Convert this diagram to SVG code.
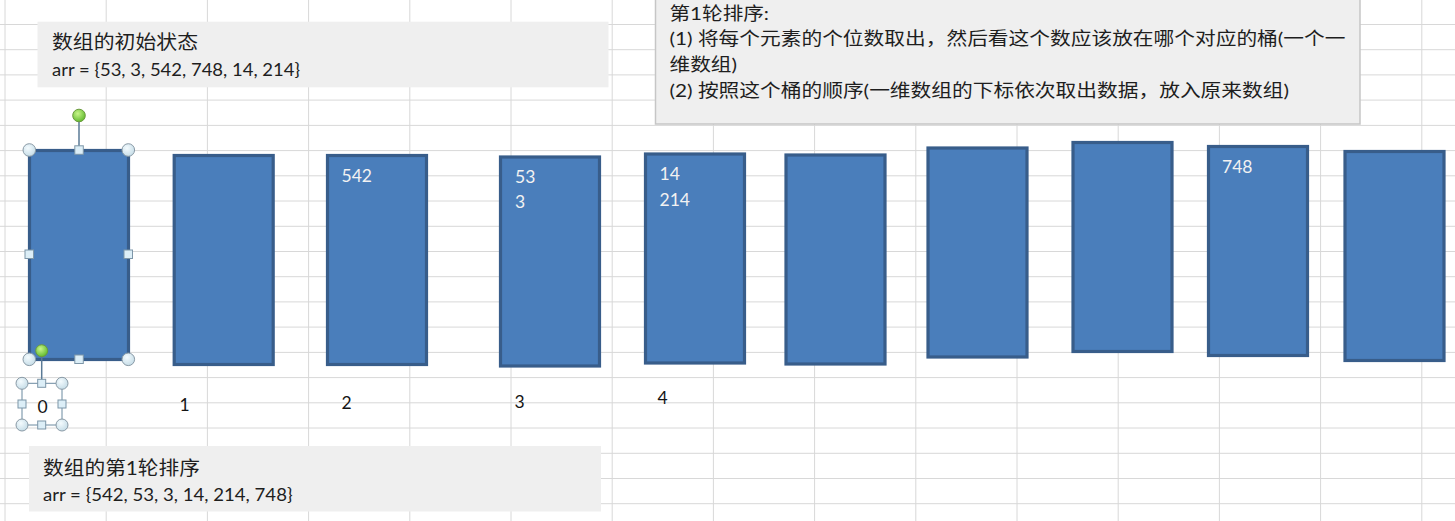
<svg xmlns="http://www.w3.org/2000/svg" width="1455" height="521" viewBox="0 0 1455 521">
  <defs>
    <style>
      .grid line { stroke: #d8d8d8; stroke-width: 1; }
      .bucket { fill: #4a7ebb; stroke: #385d8a; stroke-width: 3.2; }
      .note { fill: #efefef; }
      .txt { font-family: Lato, "Noto Sans CJK SC", sans-serif; fill: #1e1e1e; }
      .in { font-family: Lato, "Noto Sans CJK SC", sans-serif; fill: #f2f2f2; font-size: 17.5px; }
      .idx { font-family: Lato, "Noto Sans CJK SC", sans-serif; fill: #151515; font-size: 17.5px; }
      .hc { fill: url(#hgrad); stroke: #8a9aa6; stroke-width: 1; }
      .hs { fill: #dceef7; stroke: #7d96a8; stroke-width: 1; }
      .hg { fill: url(#ggrad); stroke: #6b9a3d; stroke-width: 1; }
      .hl { stroke: #5a7a96; stroke-width: 1.5; fill: none; }
    </style>
    <radialGradient id="hgrad" cx="0.4" cy="0.35" r="0.7">
      <stop offset="0" stop-color="#f4fbfe"/>
      <stop offset="1" stop-color="#c3dbe6"/>
    </radialGradient>
    <radialGradient id="ggrad" cx="0.4" cy="0.35" r="0.7">
      <stop offset="0" stop-color="#c8f58a"/>
      <stop offset="1" stop-color="#5cb82a"/>
    </radialGradient>
  </defs>

  <rect x="0" y="0" width="1455" height="521" fill="#ffffff"/>

  <g class="grid">
    <line x1="5" y1="0" x2="5" y2="521"/>
    <line x1="106.2" y1="0" x2="106.2" y2="521"/>
    <line x1="207.4" y1="0" x2="207.4" y2="521"/>
    <line x1="308.6" y1="0" x2="308.6" y2="521"/>
    <line x1="409.8" y1="0" x2="409.8" y2="521"/>
    <line x1="511" y1="0" x2="511" y2="521"/>
    <line x1="612.2" y1="0" x2="612.2" y2="521"/>
    <line x1="713.4" y1="0" x2="713.4" y2="521"/>
    <line x1="814.6" y1="0" x2="814.6" y2="521"/>
    <line x1="915.8" y1="0" x2="915.8" y2="521"/>
    <line x1="1017" y1="0" x2="1017" y2="521"/>
    <line x1="1118.2" y1="0" x2="1118.2" y2="521"/>
    <line x1="1219.4" y1="0" x2="1219.4" y2="521"/>
    <line x1="1320.6" y1="0" x2="1320.6" y2="521"/>
    <line x1="1421.8" y1="0" x2="1421.8" y2="521"/>
    <line x1="0" y1="24.5" x2="1455" y2="24.5"/>
    <line x1="0" y1="49.7" x2="1455" y2="49.7"/>
    <line x1="0" y1="74.9" x2="1455" y2="74.9"/>
    <line x1="0" y1="100.1" x2="1455" y2="100.1"/>
    <line x1="0" y1="125.4" x2="1455" y2="125.4"/>
    <line x1="0" y1="150.6" x2="1455" y2="150.6"/>
    <line x1="0" y1="175.8" x2="1455" y2="175.8"/>
    <line x1="0" y1="201" x2="1455" y2="201"/>
    <line x1="0" y1="226.3" x2="1455" y2="226.3"/>
    <line x1="0" y1="251.5" x2="1455" y2="251.5"/>
    <line x1="0" y1="276.7" x2="1455" y2="276.7"/>
    <line x1="0" y1="301.9" x2="1455" y2="301.9"/>
    <line x1="0" y1="327.1" x2="1455" y2="327.1"/>
    <line x1="0" y1="352.4" x2="1455" y2="352.4"/>
    <line x1="0" y1="377.6" x2="1455" y2="377.6"/>
    <line x1="0" y1="402.8" x2="1455" y2="402.8"/>
    <line x1="0" y1="428" x2="1455" y2="428"/>
    <line x1="0" y1="453.3" x2="1455" y2="453.3"/>
    <line x1="0" y1="478.5" x2="1455" y2="478.5"/>
    <line x1="0" y1="503.7" x2="1455" y2="503.7"/>
  </g>

  <g id="note-initial">
    <rect class="note" x="37.5" y="21.7" width="571" height="65.6"/>
    <text class="txt" x="52" y="49" font-size="19" textLength="146" lengthAdjust="spacingAndGlyphs">数组的初始状态</text>
    <text class="txt" x="52" y="75.5" font-size="17" textLength="248" lengthAdjust="spacingAndGlyphs">arr = {53, 3, 542, 748, 14, 214}</text>
  </g>

  <g id="note-round1-steps">
    <rect class="note" x="655.5" y="-1" width="704.5" height="125" stroke="#c6c6c6" stroke-width="1.5"/>
    <text class="txt" x="669.5" y="20" font-size="18" textLength="99.5" lengthAdjust="spacingAndGlyphs">第1轮排序:</text>
    <text class="txt" x="669.5" y="45" font-size="18" textLength="676" lengthAdjust="spacingAndGlyphs">(1) 将每个元素的个位数取出，然后看这个数应该放在哪个对应的桶(一个一</text>
    <text class="txt" x="669.5" y="71" font-size="18" textLength="67.5" lengthAdjust="spacingAndGlyphs">维数组)</text>
    <text class="txt" x="669.5" y="97" font-size="18" textLength="619.5" lengthAdjust="spacingAndGlyphs">(2) 按照这个桶的顺序(一维数组的下标依次取出数据，放入原来数组)</text>
  </g>

  <g id="note-round1-result">
    <rect class="note" x="29" y="446" width="572" height="65.5"/>
    <text class="txt" x="43" y="475" font-size="19" textLength="157" lengthAdjust="spacingAndGlyphs">数组的第1轮排序</text>
    <text class="txt" x="43" y="500.5" font-size="17" textLength="249.5" lengthAdjust="spacingAndGlyphs">arr = {542, 53, 3, 14, 214, 748}</text>
  </g>

  <g id="bucket-0">
    <rect class="bucket" x="29.5" y="150.5" width="99" height="209"/>
  </g>
  <g id="bucket-1">
    <rect class="bucket" x="174.2" y="155.5" width="99" height="209"/>
  </g>
  <g id="bucket-2">
    <rect class="bucket" x="327.5" y="155.5" width="99" height="209"/>
    <text class="in" x="341.5" y="182">542</text>
  </g>
  <g id="bucket-3">
    <rect class="bucket" x="500.5" y="157" width="99" height="209"/>
    <text class="in" x="515" y="183">53</text>
    <text class="in" x="515" y="208">3</text>
  </g>
  <g id="bucket-4">
    <rect class="bucket" x="645.5" y="154" width="99" height="209"/>
    <text class="in" x="659.5" y="180">14</text>
    <text class="in" x="659.5" y="205.5">214</text>
  </g>
  <g id="bucket-5">
    <rect class="bucket" x="786" y="155" width="99" height="209"/>
  </g>
  <g id="bucket-6">
    <rect class="bucket" x="928" y="148" width="99" height="209"/>
  </g>
  <g id="bucket-7">
    <rect class="bucket" x="1073" y="142.5" width="99" height="209"/>
  </g>
  <g id="bucket-8">
    <rect class="bucket" x="1208.5" y="146.5" width="99" height="209"/>
    <text class="in" x="1222" y="173">748</text>
  </g>
  <g id="bucket-9">
    <rect class="bucket" x="1345" y="151.5" width="99" height="209"/>
  </g>

  <g id="labels">
    <text class="idx" x="37.5" y="412.5">0</text>
    <text class="idx" x="179.5" y="411">1</text>
    <text class="idx" x="341.5" y="409">2</text>
    <text class="idx" x="514.5" y="408">3</text>
    <text class="idx" x="657.5" y="404">4</text>
  </g>

  <g id="selection-handles">
    <line class="hl" x1="79" y1="121" x2="79" y2="150"/>
    <circle class="hg" cx="79" cy="115.5" r="6.3"/>
    <circle class="hc" cx="29.3" cy="150" r="6.3"/>
    <circle class="hc" cx="128.3" cy="150" r="6.3"/>
    <circle class="hc" cx="29.3" cy="359.3" r="6.3"/>
    <circle class="hc" cx="128.3" cy="359.3" r="6.3"/>
    <rect class="hs" x="74.8" y="145.8" width="8.5" height="8.5"/>
    <rect class="hs" x="74.8" y="355" width="8.5" height="8.5"/>
    <rect class="hs" x="25" y="250" width="8.5" height="8.5"/>
    <rect class="hs" x="124" y="250" width="8.5" height="8.5"/>

    <line class="hl" x1="41.7" y1="355" x2="41.7" y2="383.3"/>
    <rect x="22" y="383.3" width="40" height="41.7" fill="none" stroke="#6b8aa0" stroke-width="1"/>
    <circle class="hc" cx="22" cy="383.3" r="6"/>
    <circle class="hc" cx="62" cy="383.3" r="6"/>
    <circle class="hc" cx="22" cy="425" r="6"/>
    <circle class="hc" cx="62" cy="425" r="6"/>
    <rect class="hs" x="37.7" y="379.3" width="8" height="8"/>
    <rect class="hs" x="37.7" y="421" width="8" height="8"/>
    <rect class="hs" x="18" y="400" width="8" height="8"/>
    <rect class="hs" x="58" y="400" width="8" height="8"/>
    <circle class="hg" cx="41.7" cy="350.7" r="6"/>
  </g>
</svg>
